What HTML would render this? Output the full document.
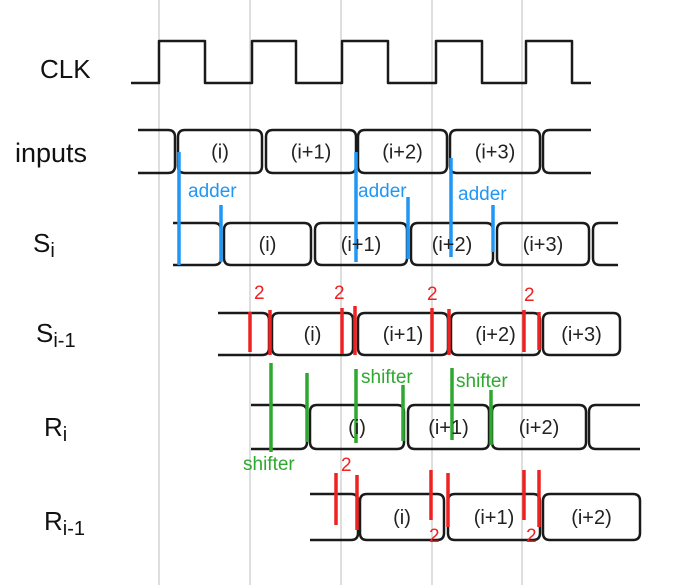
<!DOCTYPE html>
<html><head><meta charset="utf-8">
<style>
html,body{margin:0;padding:0;background:#fff;}
svg{display:block;}
text{font-family:"Liberation Sans",sans-serif;}
</style></head>
<body>
<svg id="chart" width="692" height="585" viewBox="0 0 692 585" xmlns="http://www.w3.org/2000/svg">
<rect width="692" height="585" fill="#fff"/>
<g id="grid"></g>
<g id="waves"></g>
<g id="marks"></g>
<g id="labels"></g>
</svg>
<script>
const NS='http://www.w3.org/2000/svg';
const gridEdges=[159,250,341,432,522];
const clkEdges=[131,159,205,252,296,342,388,436,482,526,572,591];
const clkLevels=[41,83];
const signalNames=['inputs','Si','Si-1','Ri','Ri-1'];
const busTops=[130,223,313,405,494];
const busBottoms=[173,265,355,449,540];
const busStart=[138,173,218,251,310];
const busSegments=[
 [[178,262],[266,356],[358,447],[450,540],[543,591]],
 [[224,311],[315,407],[411,493],[497,589],[593,618]],
 [[272,353],[358,448],[451,540],[543,620]],
 [[310,404],[408,489],[492,586],[589,640]],
 [[360,444],[448,540],[543,640]]
];
const busFirstEnd=[175,221,269,307,358];
const busLabels=[
 ['(i)','(i+1)','(i+2)','(i+3)',''],
 ['(i)','(i+1)','(i+2)','(i+3)',''],
 ['(i)','(i+1)','(i+2)','(i+3)'],
 ['(i)','(i+1)','(i+2)',''],
 ['(i)','(i+1)','(i+2)']
];
const rowMain=['CLK','inputs','S','S','R','R'];
const rowSub=['','','i','i-1','i','i-1'];
const rowNameX=[40,15,33,36,44,44];
const rowNameY=[78,162,252,342,436,530];
const blueLines=[[179,152,265],[221,205,262],[356,152,262],[408,197,259],[451,158,257],[493,205,252]];
const blueText=[[188,197],[358,197],[458,200]];
const redLines=[[250,312,352],[270,310,355],[342,308,354],[355,306,355],[432,308,352],[449,309,355],[524,310,352],[539,312,350],
 [336,473,525],[357,475,530],[431,470,520],[448,473,527],[524,470,520],[539,470,527]];
const redText=[[254,299],[334,299],[427,300],[524,301],[341,471],[429,542],[526,542]];
const greenLines=[[271,363,452],[307,373,442],[356,369,443],[403,385,441],[452,368,440],[491,390,445]];
const greenText=[[361,383],[456,387],[243,470]];

function el(tag,attrs,parent){const e=document.createElementNS(NS,tag);for(const k in attrs)e.setAttribute(k,attrs[k]);parent.appendChild(e);return e;}
const grid=document.getElementById('grid'),waves=document.getElementById('waves'),marks=document.getElementById('marks'),labels=document.getElementById('labels');

gridEdges.forEach(x=>{const l=el('line',{x1:x,y1:0,x2:x,y2:585,stroke:'#bdbdbd','stroke-width':1},grid);

});

let d='M'+clkEdges[0]+' '+clkLevels[1];
let lvl=1;
for(let i=1;i<clkEdges.length;i++){d+=' L'+clkEdges[i]+' '+clkLevels[lvl];if(i<clkEdges.length-1){lvl=1-lvl;d+=' L'+clkEdges[i]+' '+clkLevels[lvl];}}
const clk=el('path',{d:d,fill:'none',stroke:'#1a1a1a','stroke-width':2.5,'stroke-linejoin':'round'},waves);



const W='#1a1a1a';
signalNames.forEach((nm,i)=>{
 const t=busTops[i],b=busBottoms[i],r=7;
 const stub=el('path',{d:`M${busStart[i]} ${t} L${busFirstEnd[i]-r} ${t} Q${busFirstEnd[i]} ${t} ${busFirstEnd[i]} ${t+r} L${busFirstEnd[i]} ${b-r} Q${busFirstEnd[i]} ${b} ${busFirstEnd[i]-r} ${b} L${busStart[i]} ${b}`,fill:'none',stroke:W,'stroke-width':2.5},waves);
 
 
 const segs=busSegments[i];
 segs.forEach((s,j)=>{
  const last=j===segs.length-1 && busLabels[i][j]==='';
  let p;
  if(last){p=`M${s[1]} ${t} L${s[0]+r} ${t} Q${s[0]} ${t} ${s[0]} ${t+r} L${s[0]} ${b-r} Q${s[0]} ${b} ${s[0]+r} ${b} L${s[1]} ${b}`;}
  else{p=`M${s[0]+r} ${t} L${s[1]-r} ${t} Q${s[1]} ${t} ${s[1]} ${t+r} L${s[1]} ${b-r} Q${s[1]} ${b} ${s[1]-r} ${b} L${s[0]+r} ${b} Q${s[0]} ${b} ${s[0]} ${b-r} L${s[0]} ${t+r} Q${s[0]} ${t} ${s[0]+r} ${t}Z`;}
  const seg=el('path',{d:p,fill:'none',stroke:W,'stroke-width':2.5},waves);
  
  
  if(busLabels[i][j]){
   const tx=el('text',{x:(s[0]+s[1])/2,y:(t+b)/2+7,'text-anchor':'middle','font-size':20,fill:'#222'},labels);
   tx.textContent=busLabels[i][j];
   
   
  }
 });
});

rowMain.forEach((n,i)=>{
 const tx=el('text',{x:rowNameX[i],y:rowNameY[i],'font-size':n==='inputs'?27:26,fill:'#111'},labels);
 tx.textContent=n;
 if(rowSub[i]){const ts=el('tspan',{dy:5,'font-size':20},tx);ts.textContent=rowSub[i];}
 
 
});

function drawLines(arr,color,name){arr.forEach(a=>{const l=el('line',{x1:a[0],y1:a[1],x2:a[0],y2:a[2],stroke:color,'stroke-width':3.5},marks);
 
 });}
function drawText(arr,color,str,size,name){arr.forEach(a=>{const t=el('text',{x:a[0],y:a[1],'font-size':size,fill:color},marks);t.textContent=str;
 
 });}
drawLines(blueLines,'#2196f3','adder-delay-marker');
drawText(blueText,'#2196f3','adder',19,'adder-label');
drawLines(redLines,'#ee2222','delay-2-marker');
drawText(redText,'#ee2222','2',19,'delay-2-label');
drawLines(greenLines,'#2ea82e','shifter-delay-marker');
drawText(greenText,'#2ea82e','shifter',19,'shifter-label');
</script>
</body></html>
